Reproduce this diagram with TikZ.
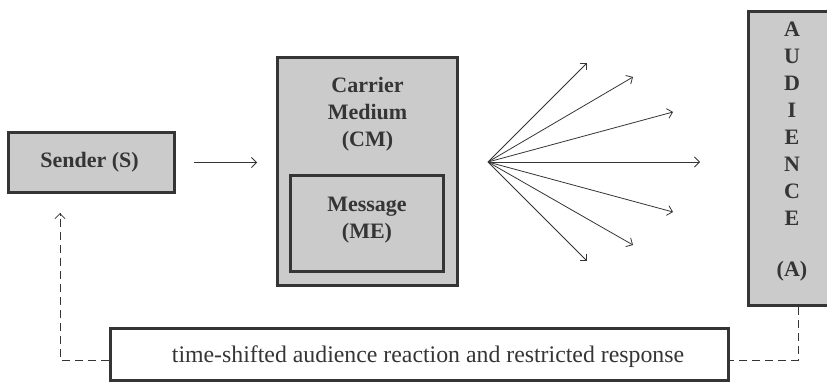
\documentclass[tikz,border=0pt]{standalone}
\usepackage{fontspec}
\setmainfont{Liberation Serif}
\usetikzlibrary{arrows.meta}
\definecolor{boxfill}{HTML}{CBCBCB}
\definecolor{boxline}{HTML}{353535}
\begin{document}
\begin{tikzpicture}[x=1pt,y=-1pt,
  gbox/.style={draw=boxline,line width=3pt,fill=boxfill,inner sep=0pt},
  lbl/.style={font=\fontsize{22}{27}\selectfont\bfseries,text=boxline,align=center,inner sep=0pt},
  arr/.style={draw=boxline,line width=0.8pt,-{Straight Barb[length=5pt,width=10pt]}},
  fb/.style={draw=boxline,line width=0.8pt,dash pattern=on 8pt off 5pt}]
\useasboundingbox (0,0) rectangle (827,383);
% boxes
\node[gbox,minimum width=166pt,minimum height=60pt] (sender) at (91.5,162.5) {};
\node[lbl] (sendert) at (89.5,162) {Sender (S)};
\node[gbox,minimum width=180pt,minimum height=228pt] (cm) at (367.5,171.5) {};
\node[lbl] (cmt) at (367.5,114) {Carrier\\Medium\\(CM)};
\node[gbox,minimum width=153pt,minimum height=96pt] (me) at (367,223.5) {};
\node[lbl] (met) at (367,220) {Message\\(ME)};
\node[gbox,minimum width=82pt,minimum height=294pt] (aud) at (789.5,158.5) {};
\node[lbl] (audt) at (792,152) {A\\U\\D\\I\\E\\N\\C\\E\\[24pt](A)};
\node[draw=boxline,line width=3pt,fill=white,minimum width=618pt,minimum height=52pt,inner sep=0pt] (resp) at (419.5,354.5) {};
\node[font=\fontsize{23.8}{28}\selectfont,text=boxline,inner sep=0pt] (respt) at (428,357) {time-shifted audience reaction and restricted response};
% sender -> medium
\draw[arr] ([xshift=18pt]sender.east) -- ([xshift=-19pt]cm.west |- sender.east);
% fan
\coordinate (o) at (488,162);
\coordinate (f1) at (587,63);
\coordinate (f2) at (633,77);
\coordinate (f3) at (673,112);
\coordinate (f4) at (700,162);
\coordinate (f5) at (673,212);
\coordinate (f6) at (633,245);
\coordinate (f7) at (587,261);
\foreach \i in {1,...,7} \draw[arr] (o) -- (f\i);
% feedback
\coordinate (ar) at (798,360);
\coordinate (al) at (60,360);
\coordinate (sa) at (60,213);
\draw[fb] (aud.south -| ar) -- (ar) -- (resp.east |- ar);
\draw[fb] (resp.west |- al) -- (al) -- (sa);
\draw[arr] ([yshift=-3pt]sa) -- (sa);
\end{tikzpicture}
\end{document}
